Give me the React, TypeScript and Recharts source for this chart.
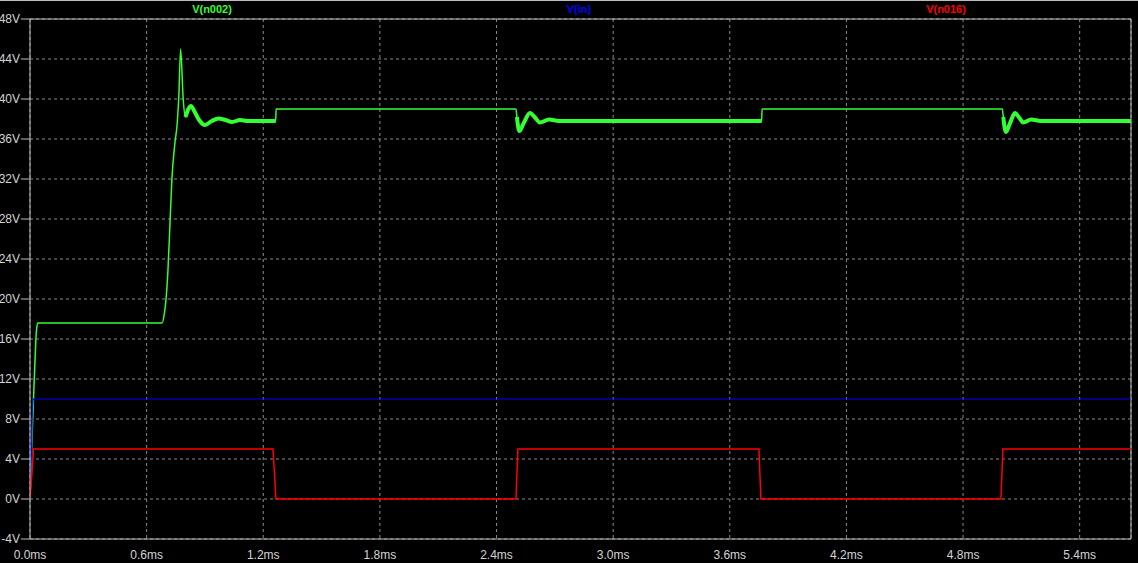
import { LineChart, Line, XAxis, YAxis, CartesianGrid, ReferenceLine } from 'recharts';

// time in ms, voltage in V
const greenTrace = [
  { t: 0, v: 0 }, { t: 0.005, v: 3 }, { t: 0.015, v: 8.5 }, { t: 0.025, v: 13.5 }, { t: 0.033, v: 16.8 },
  { t: 0.04, v: 17.6 }, { t: 0.68, v: 17.6 }, { t: 0.69, v: 18.4 }, { t: 0.7, v: 20 }, { t: 0.71, v: 23 },
  { t: 0.72, v: 27.5 }, { t: 0.73, v: 32 }, { t: 0.745, v: 35.5 }, { t: 0.757, v: 37.5 }, { t: 0.765, v: 40 },
  { t: 0.775, v: 45 }, { t: 0.788, v: 40 }, { t: 0.8, v: 38.2 }, { t: 0.815, v: 39 }, { t: 0.828, v: 39.3 },
  { t: 0.845, v: 38.8 }, { t: 0.87, v: 37.9 }, { t: 0.9, v: 37.4 }, { t: 0.935, v: 37.8 }, { t: 0.97, v: 38.05 },
  { t: 1.005, v: 37.9 }, { t: 1.04, v: 37.7 }, { t: 1.08, v: 37.9 }, { t: 1.12, v: 37.8 }, { t: 1.264, v: 37.8 },
  { t: 1.266, v: 39 }, { t: 2.5, v: 39 }, { t: 2.505, v: 38.2 }, { t: 2.517, v: 36.8 }, { t: 2.54, v: 37.6 },
  { t: 2.572, v: 38.6 }, { t: 2.6, v: 38.1 }, { t: 2.623, v: 37.65 }, { t: 2.671, v: 37.95 }, { t: 2.72, v: 37.8 },
  { t: 3.764, v: 37.8 }, { t: 3.766, v: 39 }, { t: 5.002, v: 39 }, { t: 5.007, v: 38.2 }, { t: 5.02, v: 36.7 },
  { t: 5.04, v: 37.5 }, { t: 5.067, v: 38.6 }, { t: 5.09, v: 38.1 }, { t: 5.11, v: 37.65 }, { t: 5.15, v: 37.95 },
  { t: 5.2, v: 37.8 }, { t: 5.664, v: 37.8 },
];

// switching ripple bands (drawn thicker)
const rippleA = [
  { t: 0.8, v: 38.2 }, { t: 0.815, v: 39 }, { t: 0.828, v: 39.3 }, { t: 0.845, v: 38.8 }, { t: 0.87, v: 37.9 },
  { t: 0.9, v: 37.4 }, { t: 0.935, v: 37.8 }, { t: 0.97, v: 38.05 }, { t: 1.005, v: 37.9 }, { t: 1.04, v: 37.7 },
  { t: 1.08, v: 37.9 }, { t: 1.12, v: 37.8 }, { t: 1.264, v: 37.8 },
];
const rippleB = [
  { t: 2.505, v: 38.2 }, { t: 2.517, v: 36.8 }, { t: 2.54, v: 37.6 }, { t: 2.572, v: 38.6 }, { t: 2.6, v: 38.1 },
  { t: 2.623, v: 37.65 }, { t: 2.671, v: 37.95 }, { t: 2.72, v: 37.8 }, { t: 3.764, v: 37.8 },
];
const rippleC = [
  { t: 5.007, v: 38.2 }, { t: 5.02, v: 36.7 }, { t: 5.04, v: 37.5 }, { t: 5.067, v: 38.6 }, { t: 5.09, v: 38.1 },
  { t: 5.11, v: 37.65 }, { t: 5.15, v: 37.95 }, { t: 5.2, v: 37.8 }, { t: 5.664, v: 37.8 },
];

const blueTrace = [
  { t: 0, v: 0 }, { t: 0.008, v: 5 }, { t: 0.012, v: 9 }, { t: 0.016, v: 10 }, { t: 5.664, v: 10 },
];

const redTrace = [
  { t: 0, v: 0 }, { t: 0.01, v: 2.5 }, { t: 0.018, v: 5 }, { t: 1.25, v: 5 }, { t: 1.258, v: 2.5 },
  { t: 1.265, v: 0 }, { t: 2.5, v: 0 }, { t: 2.51, v: 5 }, { t: 3.75, v: 5 }, { t: 3.76, v: 0 },
  { t: 4.995, v: 0 }, { t: 5.005, v: 5 }, { t: 5.664, v: 5 },
];

const xTicks = [0, 0.6, 1.2, 1.8, 2.4, 3.0, 3.6, 4.2, 4.8, 5.4];
const yTicks = [-4, 0, 4, 8, 12, 16, 20, 24, 28, 32, 36, 40, 44, 48];
const xMax = 5.664;

const traces = [
  { name: 'V(n002)', color: '#33ff33', left: 212 },
  { name: 'V(in)', color: '#0000ff', left: 579 },
  { name: 'V(n016)', color: '#ff0000', left: 946 },
];

const axisColor = '#c0c0c0';
const tickStyle = { fill: '#d4d4d4', fontSize: 12, fontFamily: 'Liberation Sans, Arial, sans-serif' };

export default function App() {
  return (
    <div style={{ position: 'absolute', left: 0, top: 0, width: 1138, height: 563, background: '#000', borderTop: '1px solid #bdbdbd', boxSizing: 'border-box' }}>
      {traces.map((tr) => (
        <div
          key={tr.name}
          style={{
            position: 'absolute', top: 2, left: tr.left, transform: 'translateX(-50%)',
            color: tr.color, fontSize: 11, fontWeight: 'bold', fontFamily: 'Liberation Sans, Arial, sans-serif',
          }}
        >
          {tr.name}
        </div>
      ))}
      <LineChart width={1138} height={562} margin={{ top: 18, right: 7, bottom: 0, left: 0 }}>
        <CartesianGrid stroke="#8a8a8a" strokeDasharray="3 3" />
        <XAxis
          type="number"
          dataKey="t"
          domain={[0, xMax]}
          ticks={xTicks}
          interval={0}
          height={24}
          tickLine={false}
          tickSize={6}
          tickMargin={5}
          axisLine={{ stroke: axisColor }}
          tick={tickStyle}
          tickFormatter={(v: number) => `${v.toFixed(1)}ms`}
          allowDataOverflow
        />
        <YAxis
          type="number"
          dataKey="v"
          domain={[-4, 48]}
          ticks={yTicks}
          interval={0}
          width={30}
          tickSize={9}
          tickMargin={1}
          axisLine={{ stroke: axisColor }}
          tickLine={{ stroke: axisColor }}
          tick={tickStyle}
          tickFormatter={(v: number) => `${v}V`}
          allowDataOverflow
        />
        <ReferenceLine y={48} stroke={axisColor} />
        <ReferenceLine x={xMax} stroke={axisColor} />
        <Line data={greenTrace} dataKey="v" type="monotone" stroke="#33ff33" strokeWidth={1.5} dot={false} isAnimationActive={false} />
        <Line data={rippleA} dataKey="v" type="monotone" stroke="#33ff33" strokeWidth={4} dot={false} isAnimationActive={false} />
        <Line data={rippleB} dataKey="v" type="monotone" stroke="#33ff33" strokeWidth={4} dot={false} isAnimationActive={false} />
        <Line data={rippleC} dataKey="v" type="monotone" stroke="#33ff33" strokeWidth={4} dot={false} isAnimationActive={false} />
        <Line data={blueTrace} dataKey="v" type="linear" stroke="#0000ff" strokeWidth={1.2} dot={false} isAnimationActive={false} />
        <Line data={redTrace} dataKey="v" type="linear" stroke="#ff0000" strokeWidth={1.5} dot={false} isAnimationActive={false} />
      </LineChart>
    </div>
  );
}
